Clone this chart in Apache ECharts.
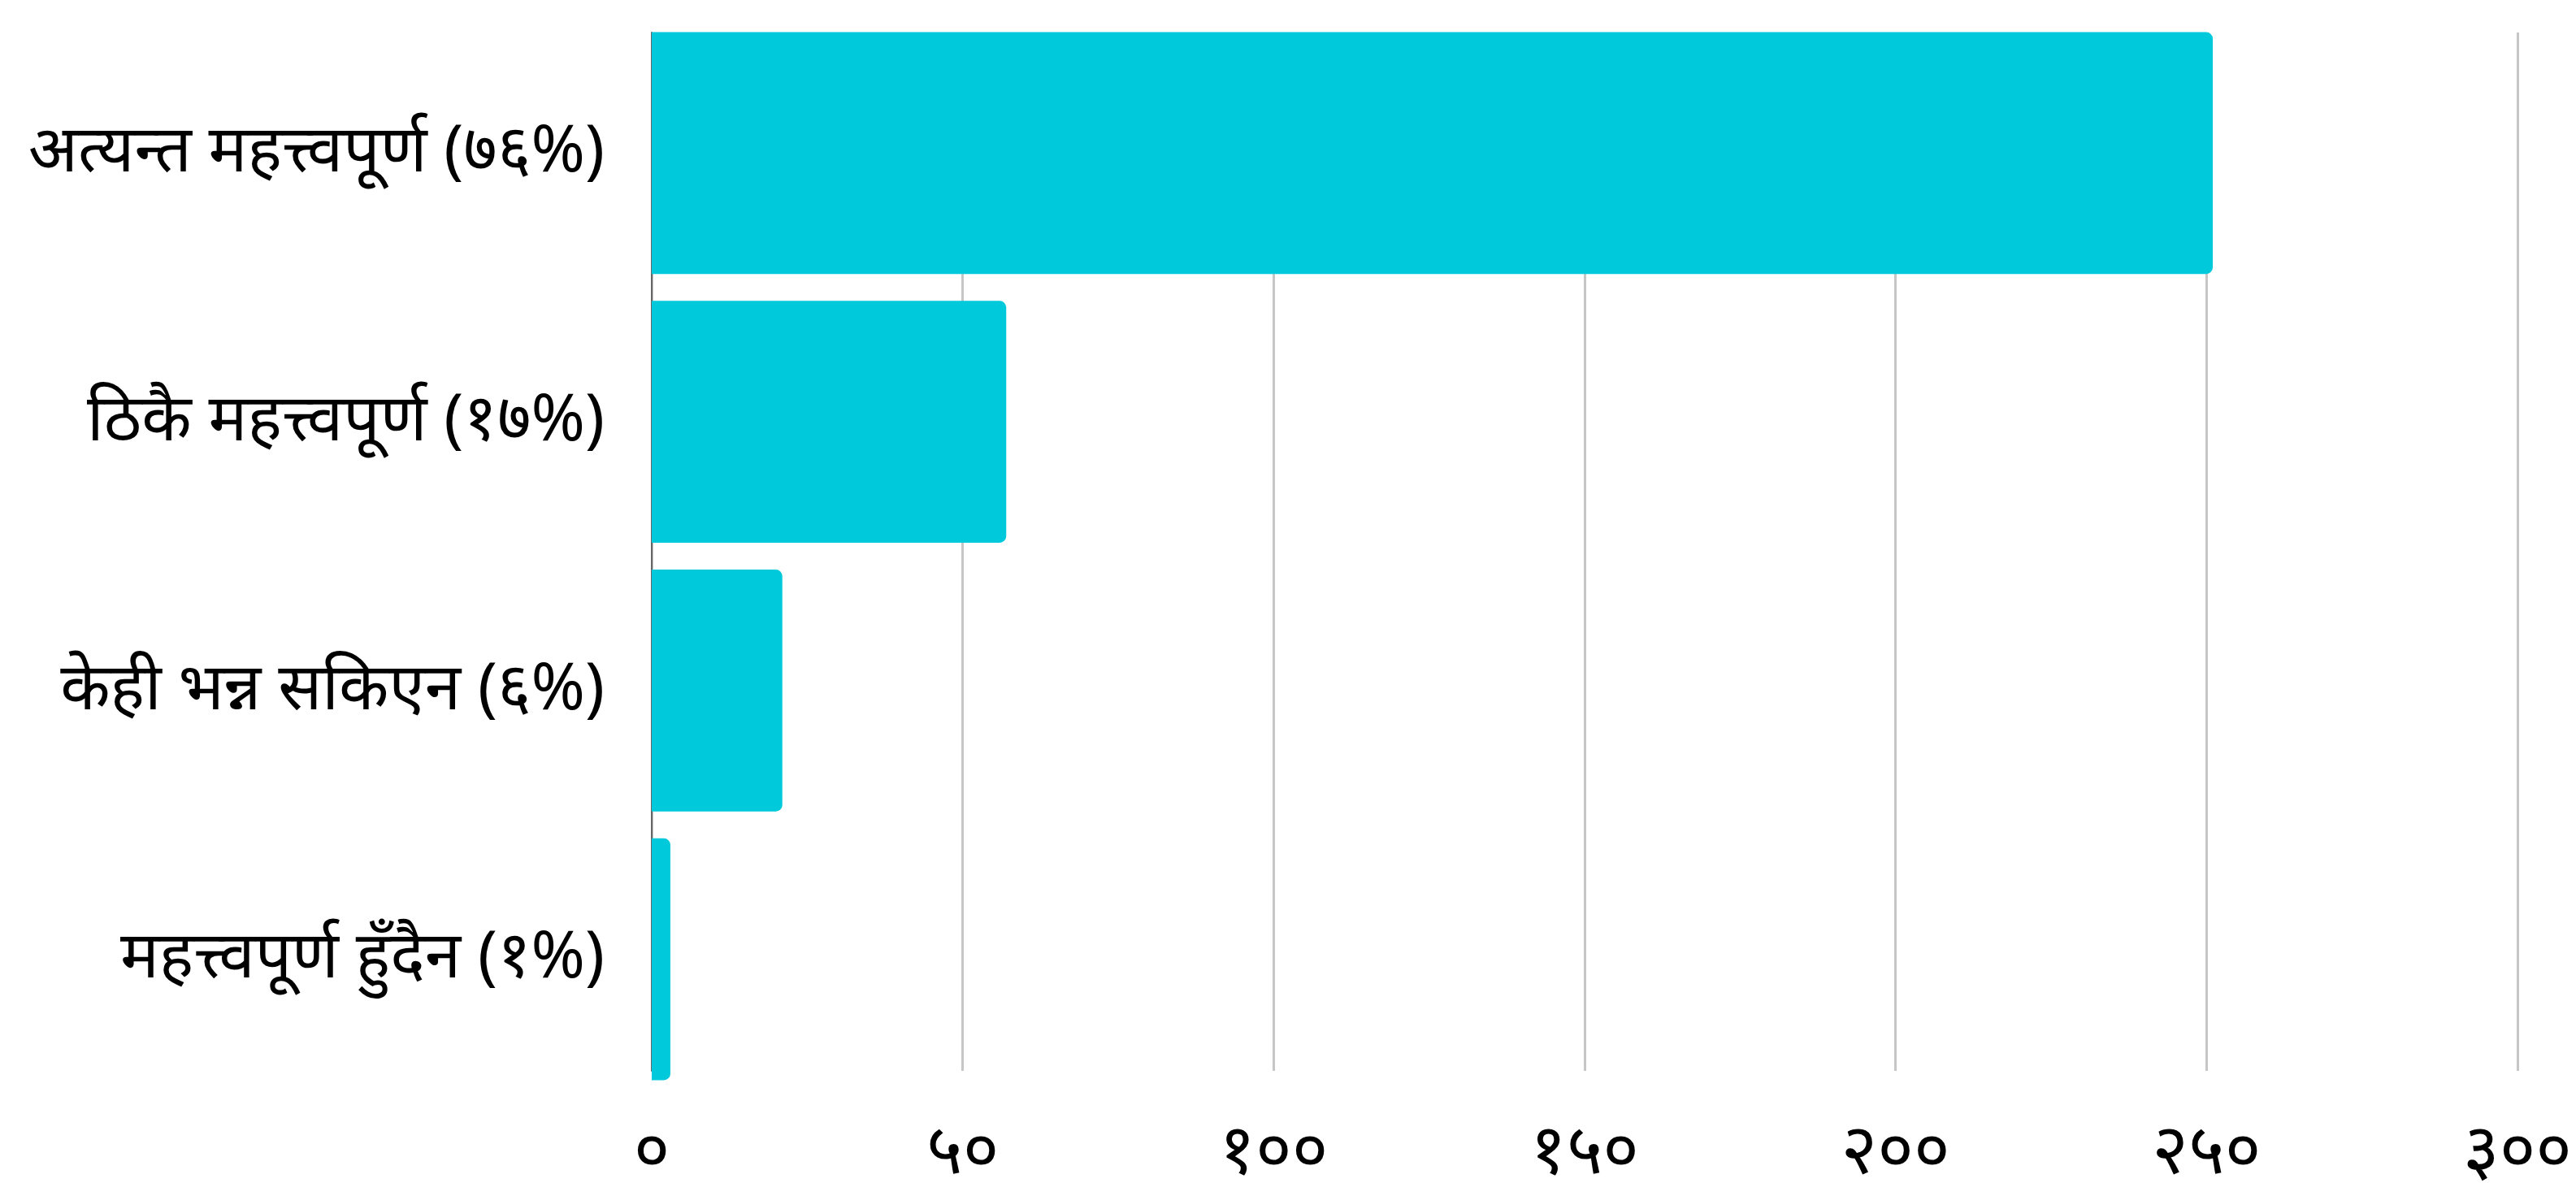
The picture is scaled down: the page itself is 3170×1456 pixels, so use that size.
<!DOCTYPE html>
<html>
<head>
<meta charset="utf-8">
<script src="https://cdn.jsdelivr.net/npm/echarts@6/dist/echarts.min.js"></script>
<style>
  html, body { margin: 0; padding: 0; background: #fff; }
  #chart { width: 3170px; height: 1456px; }
</style>
</head>
<body>
<div id="chart"></div>
<script>
// categories, top to bottom
const categories = [
  'अत्यन्त महत्त्वपूर्ण (७६%)',
  'ठिकै महत्त्वपूर्ण (१७%)',
  'केही भन्न सकिएन (६%)',
  'महत्त्वपूर्ण हुँदैन (१%)'
];
const values = [251, 57, 21, 3];
// x tick labels in Devanagari digits, 0..300 step 50
const tickLabels = ['०', '५०', '१००', '१५०', '२००', '२५०', '३००'];

let chartDom = document.getElementById('chart');
let myChart = echarts.init(chartDom);
let option = {
  animation: false,
  // grid 0 holds the bars, grid 1 only draws gridlines + axis line (shorter than the bar band)
  grid: [
    { left: 802, right: 72, top: 23, bottom: 110, outerBoundsMode: 'none' },
    { left: 802, right: 72, top: 40, bottom: 138, outerBoundsMode: 'none' }
  ],
  xAxis: [
    {
      gridIndex: 0,
      type: 'value',
      min: 0,
      max: 300,
      interval: 50,
      axisLine: { show: false },
      axisTick: { show: false },
      splitLine: { show: false },
      axisLabel: {
        margin: 30,
        fontSize: 86,
        color: '#000',
        fontFamily: 'Noto Sans, sans-serif',
        formatter: function (v) {
          return tickLabels[Math.round(v / 50)];
        }
      }
    },
    {
      gridIndex: 1,
      type: 'value',
      min: 0,
      max: 300,
      interval: 50,
      axisLine: { show: false },
      axisTick: { show: false },
      axisLabel: { show: false },
      splitLine: { lineStyle: { color: '#c6c6c6', width: 3 } }
    }
  ],
  yAxis: [
    {
      gridIndex: 0,
      type: 'category',
      inverse: true,
      data: categories,
      axisLine: { show: false },
      axisTick: { show: false },
      axisLabel: {
        margin: 58,
        fontSize: 80,
        color: '#000',
        fontFamily: 'Noto Sans, sans-serif'
      }
    },
    {
      gridIndex: 1,
      type: 'category',
      inverse: true,
      data: categories,
      axisLine: { show: true, lineStyle: { color: '#666', width: 2 } },
      axisTick: { show: false },
      axisLabel: { show: false }
    }
  ],
  series: [
    {
      type: 'bar',
      xAxisIndex: 0,
      yAxisIndex: 0,
      data: values,
      barCategoryGap: '10%',
      z: 3,
      itemStyle: {
        color: '#00C9DB',
        borderRadius: [0, 8, 8, 0]
      }
    }
  ]
};
option && myChart.setOption(option);
</script>
</body>
</html>
